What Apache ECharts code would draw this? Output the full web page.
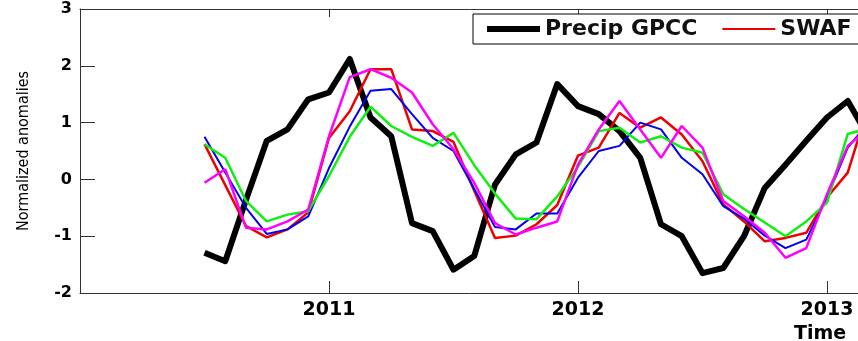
<!DOCTYPE html>
<html>
<head>
<meta charset="utf-8">
<script src="https://cdn.jsdelivr.net/npm/echarts@6/dist/echarts.min.js"></script>
<style>
  html, body { margin: 0; padding: 0; background: #fff; }
  #main { width: 858px; height: 341px; }
</style>
</head>
<body>
<div id="main"></div>
<script>
// monthly samples, Jul 2010 .. Mar 2013
var months = [
  '2010-07', '2010-08', '2010-09', '2010-10', '2010-11', '2010-12',
  '2011-01', '2011-02', '2011-03', '2011-04', '2011-05', '2011-06',
  '2011-07', '2011-08', '2011-09', '2011-10', '2011-11', '2011-12',
  '2012-01', '2012-02', '2012-03', '2012-04', '2012-05', '2012-06',
  '2012-07', '2012-08', '2012-09', '2012-10', '2012-11', '2012-12',
  '2013-01', '2013-02', '2013-03'
];

var precipGpcc = [-1.29, -1.44, -0.36, 0.68, 0.88, 1.41, 1.53, 2.12, 1.09, 0.76, -0.77, -0.91,
  -1.59, -1.35, -0.09, 0.44, 0.65, 1.68, 1.29, 1.15, 0.85, 0.38, -0.79, -1.0,
  -1.65, -1.56, -1.0, -0.15, 0.26, 0.68, 1.09, 1.38, 0.75];
var swafRed = [0.62, -0.1, -0.82, -1.02, -0.88, -0.58, 0.73, 1.2, 1.94, 1.94, 0.88, 0.85,
  0.66, -0.2, -1.03, -0.99, -0.79, -0.45, 0.42, 0.56, 1.17, 0.91, 1.09, 0.79,
  0.32, -0.44, -0.74, -1.09, -1.03, -0.94, -0.32, 0.12, 1.3];
var seriesBlue = [0.75, 0.12, -0.5, -0.96, -0.88, -0.65, 0.2, 0.93, 1.56, 1.59, 1.15, 0.73,
  0.5, -0.17, -0.84, -0.88, -0.6, -0.6, 0.03, 0.5, 0.59, 1.0, 0.88, 0.38,
  0.09, -0.47, -0.69, -0.99, -1.21, -1.06, -0.32, 0.56, 1.0];
var seriesGreen = [0.62, 0.38, -0.38, -0.74, -0.62, -0.56, 0.06, 0.75, 1.28, 0.94, 0.75, 0.59,
  0.82, 0.25, -0.25, -0.69, -0.7, -0.3, 0.22, 0.85, 0.91, 0.65, 0.76, 0.56,
  0.47, -0.26, -0.52, -0.76, -1.0, -0.74, -0.41, 0.8, 0.9];
var seriesMagenta = [-0.06, 0.18, -0.85, -0.88, -0.74, -0.53, 0.76, 1.8, 1.94, 1.79, 1.53, 0.97,
  0.53, -0.06, -0.77, -0.97, -0.85, -0.74, 0.26, 0.88, 1.38, 0.88, 0.38, 0.94,
  0.56, -0.38, -0.65, -0.94, -1.38, -1.21, -0.26, 0.59, 0.9];

var seriesNames = ['Precip GPCC', 'SWAF', 'TWS CSR', 'TWS GFZ', 'TWS JPL'];
var yTicks = [-2, -1, 0, 1, 2, 3];

// 'YYYY-MM' -> decimal year
function toYear(s) {
  var p = s.split('-');
  return Number(p[0]) + (Number(p[1]) - 1) / 12;
}
function pairs(vals) {
  return vals.map(function (v, i) { return [toYear(months[i]), v]; });
}

var tickFont = { fontFamily: 'DejaVu Sans', fontWeight: 'bold', color: '#000' };

var myChart = echarts.init(document.getElementById('main'));
var option = {
  animation: false,
  // the figure is wider than the window, only its left part shows
  grid: { left: 80, top: 9, width: 1494, height: 284, outerBoundsMode: 'none' },
  legend: {
    left: 473,
    top: 14,
    width: 1400,
    itemWidth: 53,
    itemHeight: 14,
    itemGap: 24,
    padding: [4, 10, 4, 11],
    borderColor: '#000',
    borderWidth: 1,
    backgroundColor: '#fff',
    itemStyle: { opacity: 0 },
    textStyle: { fontFamily: 'DejaVu Sans', fontWeight: 'bold', fontSize: 22, color: '#111' },
    data: [
      { name: seriesNames[0], lineStyle: { width: 6 } },
      { name: seriesNames[1], lineStyle: { width: 2 } },
      { name: seriesNames[2], lineStyle: { width: 2 } },
      { name: seriesNames[3], lineStyle: { width: 2 } },
      { name: seriesNames[4], lineStyle: { width: 2 } }
    ]
  },
  xAxis: [{
    type: 'value',
    min: 2010,
    max: 2016,
    interval: 1,
    position: 'bottom',
    axisLine: { onZero: false, lineStyle: { color: '#333', width: 1 } },
    axisTick: { inside: true, length: 12, lineStyle: { color: '#333' } },
    axisLabel: Object.assign({ showMinLabel: false, showMaxLabel: false, margin: 8, fontSize: 19,
      formatter: function (v) { return String(v); } }, tickFont),
    splitLine: { show: false },
    name: 'Time',
    nameLocation: 'middle',
    nameGap: 27,
    nameTextStyle: Object.assign({ fontSize: 19, padding: [0, 14, 0, 0] }, tickFont)
  }, {
    type: 'value',
    min: 2010,
    max: 2016,
    interval: 1,
    position: 'top',
    axisLine: { onZero: false, lineStyle: { color: '#333', width: 1 } },
    axisTick: { inside: true, length: 8, lineStyle: { color: '#333' } },
    axisLabel: { show: false },
    splitLine: { show: false }
  }],
  yAxis: {
    type: 'value',
    min: yTicks[0],
    max: yTicks[yTicks.length - 1],
    interval: 1,
    axisLine: { show: true, onZero: false, lineStyle: { color: '#333', width: 1 } },
    axisTick: { show: true, inside: true, length: 15, lineStyle: { color: '#333' } },
    axisLabel: Object.assign({ margin: 8, fontSize: 16 }, tickFont),
    splitLine: { show: false },
    name: 'Normalized anomalies',
    nameLocation: 'middle',
    nameGap: 48,
    nameTextStyle: { fontFamily: "'Liberation Sans Narrow', 'DejaVu Sans Condensed', sans-serif", fontSize: 16, color: '#000' }
  },
  series: [
    { name: seriesNames[0], type: 'line', symbol: 'none', data: pairs(precipGpcc),
      color: '#000', lineStyle: { width: 6, join: 'round' } },
    { name: seriesNames[1], type: 'line', symbol: 'none', data: pairs(swafRed),
      color: '#ee0000', lineStyle: { width: 2.5 } },
    { name: seriesNames[2], type: 'line', symbol: 'none', data: pairs(seriesBlue),
      color: '#0000ee', lineStyle: { width: 2 } },
    { name: seriesNames[3], type: 'line', symbol: 'none', data: pairs(seriesGreen),
      color: '#11ee11', lineStyle: { width: 2.5 } },
    { name: seriesNames[4], type: 'line', symbol: 'none', data: pairs(seriesMagenta),
      color: '#ff00ff', lineStyle: { width: 2.5 } }
  ]
};
myChart.setOption(option);
</script>
</body>
</html>
